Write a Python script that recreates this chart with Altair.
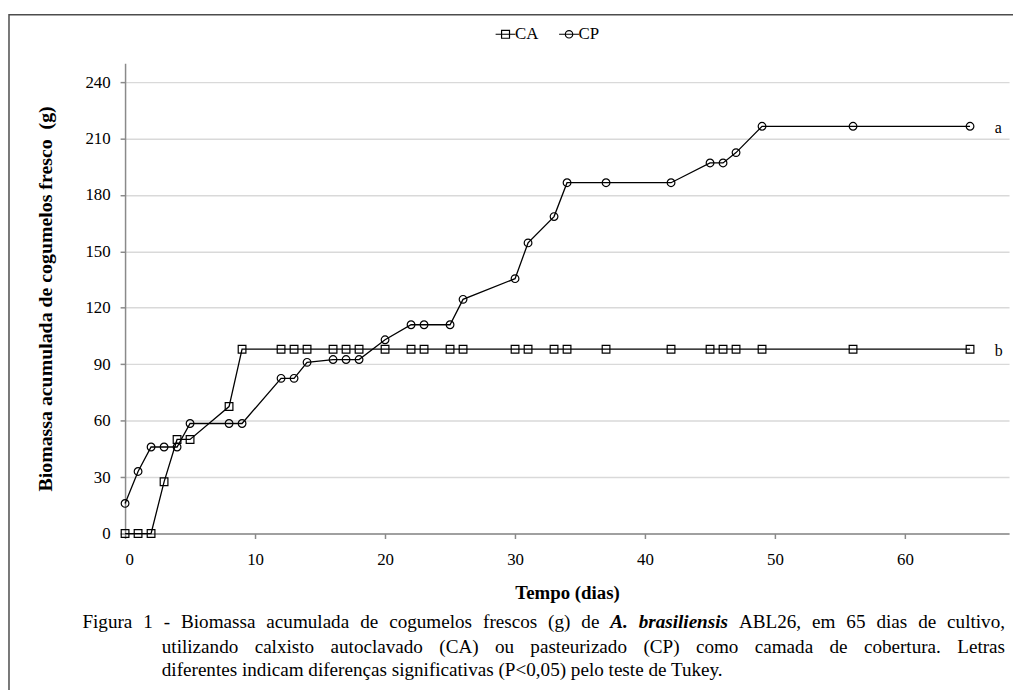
import altair as alt
import pandas as pd

# ---- data ----
series = ["CA", "CP"]
end_letters = ["b", "a"]

ca_days = [0, 1, 2, 3, 4, 5, 8, 9, 12, 13, 14, 16, 17, 18, 20, 22, 23, 25, 26,
           30, 31, 33, 34, 37, 42, 45, 46, 47, 49, 56, 65]
ca_vals = [0, 0, 0, 27.5, 50, 50, 67.5, 98, 98, 98, 98, 98, 98, 98, 98, 98, 98, 98, 98,
           98, 98, 98, 98, 98, 98, 98, 98, 98, 98, 98, 98]

cp_days = [0, 1, 2, 3, 4, 5, 8, 9, 12, 13, 14, 16, 17, 18, 20, 22, 23, 25, 26,
           30, 31, 33, 34, 37, 42, 45, 46, 47, 49, 56, 65]
cp_vals = [16, 33, 46, 46, 46, 58.5, 58.5, 58.5, 82.5, 82.5, 91, 92.5, 92.5, 92.5, 103, 111, 111, 111, 124.5,
           135.5, 154.5, 168.5, 186.5, 186.5, 186.5, 197, 197, 202.5, 216.5, 216.5, 216.5]

x_ticks = [0, 10, 20, 30, 40, 50, 60]
y_ticks = [0, 30, 60, 90, 120, 150, 180, 210, 240]

# caption words; (word, bold-italic?)
caption_line1 = [("Figura", False), ("1", False), ("-", False), ("Biomassa", False),
                 ("acumulada", False), ("de", False), ("cogumelos", False), ("frescos", False),
                 ("(g)", False), ("de", False), ("A.", True), ("brasiliensis", True),
                 ("ABL26,", False), ("em", False), ("65", False), ("dias", False),
                 ("de", False), ("cultivo,", False)]
caption_line2 = "utilizando calxisto autoclavado (CA) ou pasteurizado (CP) como camada de cobertura. Letras"
caption_line3 = "diferentes indicam diferenças significativas (P<0,05) pelo teste de Tukey."

# ---- tables ----
rows = [{"dia": d, "biomassa": v, "serie": "CA"} for d, v in zip(ca_days, ca_vals)]
rows += [{"dia": d, "biomassa": v, "serie": "CP"} for d, v in zip(cp_days, cp_vals)]
df = pd.DataFrame(rows)

ends = pd.DataFrame({
    "dia": [ca_days[-1], cp_days[-1]],
    "biomassa": [ca_vals[-1], cp_vals[-1]],
    "letra": end_letters,
})

SERIF = "Liberation Serif"
AXIS_GRAY = "#8a8a8a"
CAP_SIZE = 19.3

# Times-compatible advance widths (per 1000 em) used to justify the caption lines
W_REG = dict(zip("abcdefghijklmnopqrstuvwxyz",
                 [444, 500, 444, 500, 444, 333, 500, 500, 278, 278, 500, 278, 778,
                  500, 500, 500, 500, 333, 389, 278, 500, 500, 722, 500, 500, 444]))
W_REG.update(dict(zip("ABCDEFGHIJKLMNOPQRSTUVWXYZ",
                      [722, 667, 667, 722, 611, 556, 722, 722, 333, 389, 722, 611, 889,
                       722, 722, 556, 722, 667, 556, 611, 722, 722, 944, 722, 722, 611])))
W_REG.update({c: 500 for c in "0123456789"})
W_REG.update({"(": 333, ")": 333, ",": 250, ".": 250, "-": 333, "<": 564, "ç": 444, " ": 250})
W_BI = dict(W_REG)
W_BI.update({"A": 667, "b": 500, "r": 389, "a": 500, "s": 389, "i": 278, "l": 278,
             "e": 444, "n": 556, ".": 250})


def wwidth(word, bi=False):
    t = W_BI if bi else W_REG
    return sum(t.get(c, 500) for c in word) * CAP_SIZE / 1000.0


def justify(words, x0, x1):
    widths = [wwidth(w, b) for w, b in words]
    gap = (x1 - x0 - sum(widths)) / (len(words) - 1)
    xs, x = [], x0
    for wd in widths:
        xs.append(x)
        x += wd + gap
    return xs


x_scale = alt.Scale(domain=[0, 68], nice=False, zero=False)
y_scale = alt.Scale(domain=[0, 250], nice=False)

x_enc = alt.X("dia:Q", scale=x_scale,
              axis=alt.Axis(values=x_ticks, title="Tempo (dias)", grid=False,
                            tickSize=5, labelPadding=13, titlePadding=16,
                            format="d", titleFontSize=19))
y_enc = alt.Y("biomassa:Q", scale=y_scale,
              axis=alt.Axis(values=y_ticks,
                            title="Biomassa acumulada de cogumelos fresco\u00a0 (g)",
                            grid=True, tickSize=5, labelPadding=10, titlePadding=30,
                            format="d", titleFontSize=20))

base = alt.Chart(df)

lines = base.mark_line(color="black", strokeWidth=1.3).encode(
    x=x_enc, y=y_enc, detail="serie:N")

points = base.mark_point(filled=False, color="black", size=60, strokeWidth=1.2,
                         opacity=1).encode(
    x="dia:Q", y="biomassa:Q",
    shape=alt.Shape("serie:N", scale=alt.Scale(domain=series, range=["square", "circle"]),
                    legend=None))

sq_path = "M-2,0H2M-0.8,-0.8H0.8V0.8H-0.8Z"
ci_path = "M-2,0H2M-0.75,0A0.75,0.75 0 1,0 0.75,0A0.75,0.75 0 1,0 -0.75,0Z"

legend_layer = base.transform_filter("datum.dia < 0").mark_point(
    filled=False, color="black", strokeWidth=1.2, opacity=1).encode(
    x="dia:Q", y="biomassa:Q",
    shape=alt.Shape("serie:N",
                    scale=alt.Scale(domain=series, range=[sq_path, ci_path]),
                    legend=alt.Legend(title=None, orient="none", legendX=375, legendY=-38,
                                      direction="horizontal", symbolSize=100,
                                      labelFont=SERIF, labelFontSize=17, labelColor="black",
                                      symbolStrokeColor="black", symbolStrokeWidth=1.2,
                                      labelOffset=1, columnPadding=18)))

end_text = alt.Chart(ends).mark_text(align="left", baseline="middle", dx=25, dy=2,
                                      font=SERIF, fontSize=16, color="black").encode(
    x="dia:Q", y="biomassa:Q", text="letra:N")

one = alt.Data(values=[{}])


def caption(txt, x, y, bi=False):
    kw = {"fontWeight": "bold", "fontStyle": "italic"} if bi else {}
    return alt.Chart(one).mark_text(text=txt, align="left", baseline="middle", font=SERIF,
                                    fontSize=CAP_SIZE, color="black", **kw).encode(
        x=alt.value(x), y=alt.value(y))


frame = alt.Chart(one).mark_rect(fill="transparent", stroke="#4d4d4d", strokeWidth=1.5).encode(
    x=alt.value(-117), x2=alt.value(930), y=alt.value(-49), y2=alt.value(700))

# plot origin is at page (126, 61); caption lines are justified like the source
L1_X0, L1_X1, L2_X0, L2_X1 = -43, 887, 37, 887
Y1, Y2, Y3 = 563, 588, 612

cap = []
for (w, b), x in zip(caption_line1, justify(caption_line1, L1_X0, L1_X1)):
    cap.append(caption(w, round(x, 1), Y1, b))
words2 = [(w, False) for w in caption_line2.split(" ")]
for (w, b), x in zip(words2, justify(words2, L2_X0, L2_X1)):
    cap.append(caption(w, round(x, 1), Y2, b))
cap.append(caption(caption_line3, L2_X0, Y3))

chart = alt.layer(frame, lines, points, legend_layer, end_text, *cap).resolve_scale(
    shape="independent"
).properties(
    width=891, height=474,
    padding={"left": 118, "top": 53, "right": 4, "bottom": 155},
    autosize=alt.AutoSizeParams(type="none"),
).configure_view(strokeWidth=0).configure_axis(
    labelFont=SERIF, labelFontSize=17, labelColor="black",
    titleFont=SERIF, titleFontSize=18, titleFontWeight="bold", titleColor="black",
    domainColor=AXIS_GRAY, tickColor=AXIS_GRAY, domainWidth=1.5, tickWidth=1.5,
    gridColor="#d9d9d9", gridWidth=1.5,
)

chart.save("out.html", embed_options={"renderer": "svg", "actions": False})
